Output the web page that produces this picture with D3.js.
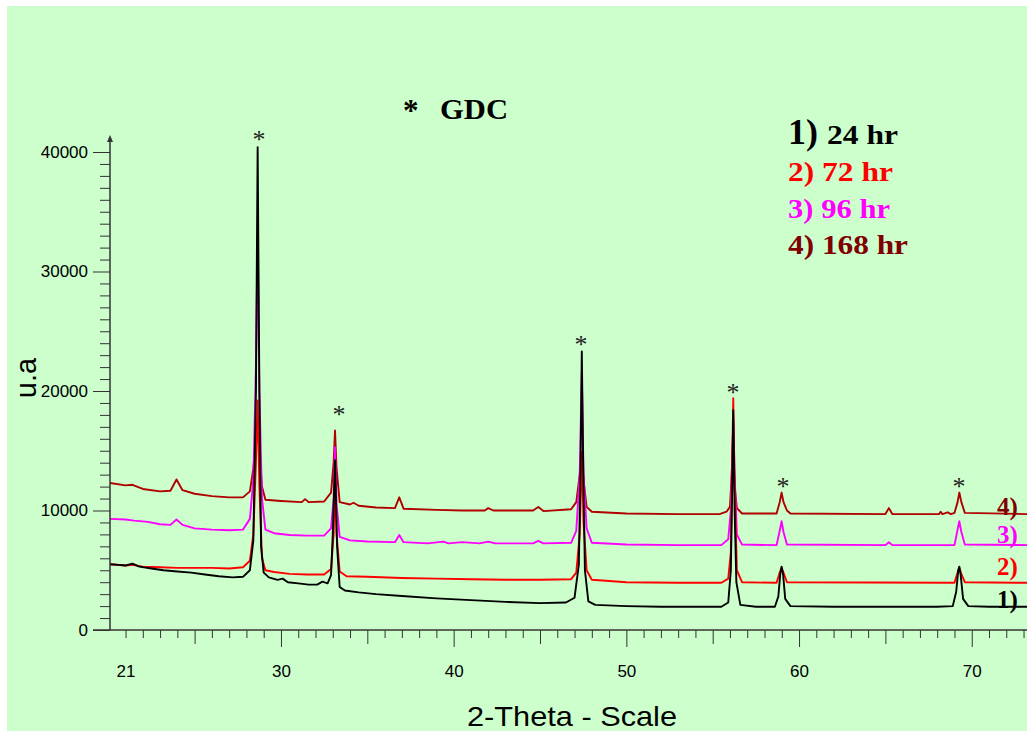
<!DOCTYPE html>
<html>
<head>
<meta charset="utf-8">
<script src="https://cdn.jsdelivr.net/npm/d3@7"></script>
<style>
  html, body { margin: 0; padding: 0; background: #ffffff; }
  svg { display: block; }
</style>
</head>
<body>
<script>
// ---------- DATA ----------
const seriesNames = ["1) 24 hr", "2) 72 hr", "3) 96 hr", "4) 168 hr"];
const seriesTags = ["1)", "2)", "3)", "4)"];

// [2-theta, intensity]
const s1_24hr = [
  [20.1,5500],[20.6,5450],[21.0,5400],[21.4,5550],[21.8,5300],[22.5,5150],[23.2,5000],[24.0,4900],
  [24.8,4800],[25.6,4650],[26.4,4500],[27.2,4400],[27.8,4450],[28.2,5000],[28.4,7500],[28.55,20000],
  [28.65,40400],[28.75,20000],[28.85,7000],[29.0,4800],[29.3,4400],[29.8,4200],[30.1,4300],[30.4,4000],
  [31.0,3900],[31.6,3800],[32.1,3800],[32.4,4050],[32.7,3900],[32.9,4600],[33.0,8000],[33.13,14200],
  [33.25,7000],[33.4,3600],[33.7,3300],[34.5,3150],[35.5,3000],[37.0,2850],[39.0,2650],[41.0,2500],
  [43.0,2350],[45.0,2250],[46.5,2300],[47.0,2700],[47.25,5500],[47.35,14000],[47.42,23300],[47.5,14000],
  [47.6,5000],[47.8,2400],[48.2,2100],[50,2000],[52,1950],[54,1950],[55.5,1950],[55.9,2300],
  [56.05,5000],[56.12,11000],[56.19,18400],[56.27,10000],[56.37,4000],[56.6,2100],[57.5,1950],[58.6,1950],
  [58.8,2800],[58.92,4800],[58.99,5300],[59.08,4600],[59.2,2600],[59.5,2000],[62,1950],[65,1950],
  [68,1950],[68.9,2000],[69.1,3200],[69.22,5000],[69.28,5300],[69.36,4600],[69.5,2600],[69.8,2000],
  [71,1950],[73.2,1950]
];
const s2_72hr = [
  [20.1,5500],[21.0,5400],[21.4,5450],[22,5300],[23,5250],[24,5200],[25,5200],[26,5200],[27,5150],
  [27.8,5250],[28.2,5800],[28.4,8000],[28.55,14000],[28.65,19200],[28.75,12000],[28.9,6000],[29.1,5000],
  [29.6,4850],[30.5,4700],[31.5,4650],[32.5,4650],[32.9,5100],[33.05,8000],[33.13,12500],[33.22,8000],
  [33.4,4900],[33.8,4500],[35,4450],[37,4350],[39,4300],[41,4250],[43,4200],[45,4200],[46.8,4250],
  [47.1,4800],[47.3,8000],[47.42,14800],[47.52,9000],[47.7,5000],[48.0,4200],[50,4000],[53,3950],
  [55.5,3950],[55.9,4300],[56.05,6500],[56.12,13000],[56.19,19400],[56.27,12000],[56.4,5000],[56.7,4000],
  [58.7,3950],[58.88,4800],[58.99,5200],[59.1,4800],[59.3,4000],[69.0,3950],[69.18,4800],[69.28,5200],
  [69.4,4700],[69.6,4000],[73.2,3950]
];
const s3_96hr = [
  [20.1,9300],[21.0,9250],[21.5,9150],[22.3,9050],[23.0,8850],[23.6,8800],[23.95,9250],[24.3,8800],
  [25.0,8500],[26.0,8400],[27.0,8350],[27.8,8400],[28.2,9300],[28.4,12500],[28.55,22000],[28.65,33000],
  [28.75,20000],[28.9,11000],[29.1,8400],[29.6,8100],[30.5,7950],[31.5,7900],[32.5,7900],[32.9,8500],
  [33.05,11000],[33.13,15300],[33.22,10500],[33.4,7800],[34.0,7500],[35.0,7400],[36.6,7350],[36.85,7950],
  [37.1,7350],[38.5,7250],[39.4,7400],[39.7,7250],[40.5,7350],[41.5,7250],[42.0,7400],[42.4,7250],
  [44.6,7250],[44.9,7450],[45.2,7250],[46.8,7300],[47.1,8300],[47.3,13000],[47.42,21500],[47.52,13000],
  [47.7,8500],[48.0,7300],[50,7150],[53,7100],[55.5,7100],[55.9,7600],[56.05,10000],[56.12,14000],
  [56.19,17500],[56.27,13000],[56.4,8000],[56.7,7150],[58.7,7100],[58.88,8300],[58.99,9100],[59.1,8200],
  [59.3,7150],[65.0,7100],[65.2,7350],[65.4,7100],[69.0,7100],[69.18,8400],[69.28,9100],[69.4,8200],
  [69.6,7150],[73.2,7100]
];
const s4_168hr = [
  [20.1,12300],[21.0,12100],[21.4,12150],[22.0,11800],[23.0,11600],[23.6,11650],[23.95,12600],[24.3,11700],
  [25.0,11400],[26.0,11200],[27.0,11100],[27.8,11100],[28.2,11600],[28.4,13500],[28.55,16000],[28.65,17300],
  [28.75,15000],[28.9,12000],[29.1,10900],[30.0,10800],[31.2,10700],[31.4,10950],[31.6,10700],[32.5,10750],
  [32.9,11500],[33.05,14000],[33.13,16700],[33.22,13500],[33.4,10700],[34.0,10500],[34.2,10650],[34.5,10400],
  [35.5,10250],[36.6,10200],[36.85,11100],[37.1,10150],[39.0,10050],[40.5,10000],[41.8,10000],[42.0,10200],
  [42.3,10000],[44.6,10000],[44.9,10300],[45.2,9950],[46.8,10100],[47.1,10700],[47.3,13000],[47.42,14900],
  [47.52,12500],[47.7,10300],[48.0,9900],[50,9750],[53,9700],[55.4,9700],[55.8,9900],[56.0,10300],
  [56.1,13000],[56.19,16000],[56.27,12000],[56.4,10200],[56.7,9750],[58.7,9750],[58.88,10700],[58.99,11500],
  [59.1,10700],[59.3,10000],[59.5,9750],[65.0,9700],[65.2,10200],[65.4,9700],[68.1,9700],[68.2,9900],
  [68.3,9700],[68.6,9850],[68.8,9700],[69.0,9800],[69.18,10700],[69.28,11500],[69.4,10700],[69.6,9800],
  [73.2,9700]
];

// GDC reflections marked with "*": [2-theta, intensity at which the mark sits]
const gdcMarks = [[28.73,41300],[33.36,18300],[47.37,24200],[56.18,20200],[59.07,12300],[69.26,12300]];

const xTickLabels = [21, 30, 40, 50, 60, 70];
const yTickLabels = [0, 10000, 20000, 30000, 40000];

// ---------- CHART ----------
const W = 1027, H = 731;
const lineColors = ["#000000", "#ff0000", "#ff00ff", "#b00000"];
const textColors = ["#000000", "#ff0000", "#ff00ff", "#800000"];
const allSeries = [s1_24hr, s2_72hr, s3_96hr, s4_168hr];

const svg = d3.select("body").append("svg").attr("width", W).attr("height", H);
svg.append("rect").attr("width", W).attr("height", H).attr("fill", "#ffffff");
svg.append("rect").attr("x", 7).attr("y", 6).attr("width", W - 7).attr("height", H - 6).attr("fill", "#ccffcc");

const x = d3.scaleLinear().domain([20.1, 73.2]).range([110, 1027]);
const y = d3.scaleLinear().domain([0, 40000]).range([630, 152]);

const sansFont = "'Liberation Sans', Arial, sans-serif";
const serifFont = "'Liberation Serif', 'Times New Roman', serif";
const axisColor = "#333333";

// clip
svg.append("clipPath").attr("id", "plotclip").append("rect")
  .attr("x", 110).attr("y", 100).attr("width", 917).attr("height", 531);

// series (drawn 4 -> 1 so the 24 hr trace sits on top)
const line = d3.line().x(d => x(d[0])).y(d => y(d[1]));
const gLines = svg.append("g").attr("clip-path", "url(#plotclip)");
[3, 2, 1, 0].forEach(i => {
  gLines.append("path").datum(allSeries[i])
    .attr("fill", "none").attr("stroke", lineColors[i])
    .attr("stroke-width", 1.9).attr("stroke-linejoin", "round")
    .attr("d", line);
});

// X axis
const xAxis = d3.axisBottom(x)
  .tickValues(d3.range(21, 74))
  .tickSize(8)
  .tickFormat(d => xTickLabels.includes(d) ? d : "");
const gx = svg.append("g").attr("transform", "translate(0,630)").call(xAxis);
gx.select(".domain").remove();
gx.selectAll(".tick line").attr("stroke", axisColor)
  .attr("y2", d => d % 10 === 0 ? 17 : (d % 5 === 0 ? 14 : 8));
gx.selectAll(".tick text").attr("y", 35).attr("dy", "0.71em")
  .attr("font-family", sansFont).attr("font-size", 17).attr("fill", "#000");
svg.append("line").attr("x1", 93).attr("x2", W).attr("y1", 630).attr("y2", 630)
  .attr("stroke", axisColor).attr("stroke-width", 1.5);

// Y axis
const yAxis = d3.axisLeft(y)
  .tickValues(d3.range(0, 40001, 1000))
  .tickSize(10)
  .tickFormat(d => yTickLabels.includes(d) ? d : "");
const gy = svg.append("g").attr("transform", "translate(110,0)").call(yAxis);
gy.select(".domain").remove();
gy.selectAll(".tick line").attr("stroke", axisColor)
  .attr("x2", d => d % 10000 === 0 ? -17 : -10);
gy.selectAll(".tick text").attr("x", -22)
  .attr("font-family", sansFont).attr("font-size", 17).attr("fill", "#000");
svg.append("line").attr("x1", 110).attr("x2", 110).attr("y1", 630).attr("y2", 137)
  .attr("stroke", axisColor).attr("stroke-width", 1.5);
svg.append("path").attr("d", "M110,135 L107,142 L113,142 Z").attr("fill", axisColor);

// axis titles
svg.append("text").attr("transform", "translate(36,378) rotate(-90)")
  .attr("text-anchor", "middle").attr("font-family", sansFont).attr("font-size", 29)
  .attr("fill", "#000").text("u.a");
svg.append("text").attr("x", 572).attr("y", 726)
  .attr("text-anchor", "middle").attr("font-family", sansFont).attr("font-size", 28)
  .attr("textLength", 210).attr("lengthAdjust", "spacingAndGlyphs")
  .attr("fill", "#000").text("2-Theta - Scale");

// GDC marks
svg.append("g").selectAll("text").data(gdcMarks).join("text")
  .attr("x", d => x(d[0])).attr("y", d => y(d[1]) + 12)
  .attr("text-anchor", "middle").attr("font-family", serifFont).attr("font-size", 26)
  .attr("fill", "#222").text("*");

// "* GDC" title
svg.append("text").attr("x", 403).attr("y", 121).attr("font-family", serifFont)
  .attr("font-weight", "bold").attr("font-size", 31).attr("fill", "#000").text("*");
svg.append("text").attr("x", 440).attr("y", 119).attr("font-family", serifFont)
  .attr("font-weight", "bold").attr("font-size", 29)
  .attr("textLength", 68).attr("lengthAdjust", "spacingAndGlyphs")
  .attr("fill", "#000").text("GDC");

// legend
const legBase = [144, 181, 218, 254];
const legWidth = [110, 105, 102, 120];
seriesNames.forEach((name, i) => {
  const t = svg.append("text").attr("x", 788).attr("y", legBase[i])
    .attr("font-family", serifFont).attr("font-weight", "bold")
    .attr("fill", textColors[i]);
  if (i === 0) {
    t.append("tspan").attr("font-size", 36).text("1)");
    t.append("tspan").attr("font-size", 28).attr("x", 827)
      .attr("textLength", 71).attr("lengthAdjust", "spacingAndGlyphs").text(name.slice(3));
  } else {
    t.attr("font-size", 27).attr("textLength", legWidth[i])
      .attr("lengthAdjust", "spacingAndGlyphs").text(name);
  }
});

// right-hand series tags
const tagBase = [608, 575, 543, 515];
seriesTags.forEach((tag, i) => {
  svg.append("text").attr("x", 997).attr("y", tagBase[i])
    .attr("font-family", serifFont).attr("font-weight", "bold").attr("font-size", 25)
    .attr("fill", textColors[i]).text(tag);
});
</script>
</body>
</html>
